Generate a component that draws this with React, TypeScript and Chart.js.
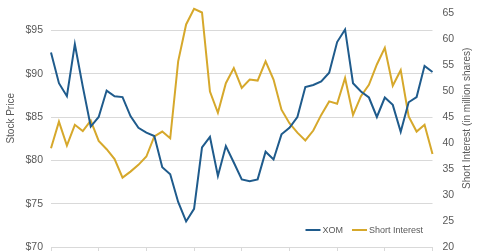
import React, { useEffect, useRef } from 'react';
import { Chart, registerables } from 'chart.js';

Chart.register(...registerables);

// Semi-monthly observation dates (x-axis has no visible labels)
const dates: string[] = [
  '12/31/14',
  '01/15/15', '01/30/15', '02/13/15', '02/27/15', '03/13/15', '03/31/15',
  '04/15/15', '04/30/15', '05/15/15', '05/29/15', '06/15/15', '06/30/15',
  '07/15/15', '07/31/15', '08/14/15', '08/31/15', '09/15/15', '09/30/15',
  '10/15/15', '10/30/15', '11/13/15', '11/30/15', '12/15/15', '12/31/15',
  '01/15/16', '01/29/16', '02/12/16', '02/29/16', '03/15/16', '03/31/16',
  '04/15/16', '04/29/16', '05/13/16', '05/31/16', '06/15/16', '06/30/16',
  '07/15/16', '07/29/16', '08/15/16', '08/31/16', '09/15/16', '09/30/16',
  '10/14/16', '10/31/16', '11/15/16', '11/30/16', '12/15/16', '12/30/16',
];

const xomPrice: number[] = [
  92.45, 88.9, 87.4, 93.4, 88.5, 83.9, 85.0, 88.05, 87.4, 87.3, 85.1, 83.75,
  83.2, 82.8, 79.2, 78.4, 75.2, 72.95, 74.4, 81.5, 82.7, 78.2, 81.65, 79.75,
  77.8, 77.6, 77.8, 81.0, 80.1, 83.0, 83.75, 85.0, 88.45, 88.7, 89.1, 90.1,
  93.65, 95.1, 88.9, 87.95, 87.25, 85.0, 87.25, 86.4, 83.3, 86.7, 87.3, 90.9,
  90.2,
];

const shortInterest: number[] = [
  39.0, 44.1, 39.5, 43.5, 42.3, 44.3, 40.4, 38.8, 36.9, 33.35, 34.5, 35.8,
  37.4, 41.25, 42.2, 40.9, 55.7, 62.8, 65.8, 65.1, 49.9, 45.8, 51.5, 54.4,
  50.6, 52.2, 52.0, 55.7, 52.2, 46.4, 43.8, 42.0, 40.5, 42.4, 45.4, 48.0,
  47.55, 52.5, 45.4, 49.0, 51.2, 55.1, 58.3, 51.0, 54.0, 45.1, 42.2, 43.5,
  37.9,
];

const priceTicks: number[] = [70, 75, 80, 85, 90, 95];
const seriesNames: string[] = ['XOM', 'Short Interest'];
const leftTitle = 'Stock Price';
const rightTitle = 'Short Interest (in million shares)';

const BLUE = '#1F5B8C';
const GOLD = '#D6A82B';
const TEXT = '#595959';
const GRID = '#D9D9D9';
const FONT = '"Liberation Sans", Arial, sans-serif';

export default function App() {
  const ref = useRef<HTMLCanvasElement>(null);

  useEffect(() => {
    document.body.style.margin = '0';
    if (!ref.current) return;

    const overlay = {
      id: 'overlay',
      afterDraw(chart: any) {
        const { ctx, chartArea } = chart;
        ctx.save();
        ctx.fillStyle = TEXT;
        ctx.font = `10px ${FONT}`;
        ctx.textAlign = 'center';
        ctx.textBaseline = 'middle';
        const cy = chartArea.top + (chartArea.bottom - chartArea.top) * 0.45;
        // left title
        ctx.save();
        ctx.translate(11, cy);
        ctx.rotate(-Math.PI / 2);
        ctx.fillText(leftTitle, 0, 0);
        ctx.restore();
        // right title
        ctx.save();
        ctx.translate(chart.width - 13, cy);
        ctx.rotate(-Math.PI / 2);
        ctx.fillText(rightTitle, 0, 0);
        ctx.restore();

        // legend
        ctx.font = `9px ${FONT}`;
        ctx.textAlign = 'left';
        const ly = chartArea.bottom - 17;
        let x = chartArea.right - 127;
        const colors = [BLUE, GOLD];
        seriesNames.forEach((name, i) => {
          ctx.strokeStyle = colors[i];
          ctx.lineWidth = 2;
          ctx.beginPath();
          ctx.moveTo(x, ly);
          ctx.lineTo(x + 15, ly);
          ctx.stroke();
          ctx.fillStyle = TEXT;
          ctx.fillText(name, x + 17, ly + 0.5);
          x += 17 + ctx.measureText(name).width + 9;
        });
        ctx.restore();
      },
    };

    const chart = new Chart(ref.current, {
      type: 'line',
      data: {
        labels: dates,
        datasets: [
          {
            label: seriesNames[0],
            data: xomPrice,
            borderColor: BLUE,
            backgroundColor: BLUE,
            borderWidth: 2,
            pointRadius: 0,
            tension: 0,
            clip: false,
            yAxisID: 'y',
          },
          {
            label: seriesNames[1],
            data: shortInterest,
            borderColor: GOLD,
            backgroundColor: GOLD,
            borderWidth: 2,
            pointRadius: 0,
            tension: 0,
            clip: false,
            yAxisID: 'y1',
          },
        ],
      },
      options: {
        animation: false,
        responsive: true,
        maintainAspectRatio: false,
        layout: { padding: { top: 13, left: 0, right: 0, bottom: 0 } },
        plugins: {
          legend: { display: false },
          tooltip: { enabled: false },
        },
        scales: {
          x: {
            type: 'category',
            offset: false,
            grid: {
              drawOnChartArea: false,
              drawTicks: true,
              tickLength: 4,
              color: GRID,
            },
            border: { display: true, color: GRID },
            ticks: { display: false, autoSkip: false },
            afterBuildTicks: (scale: any) => {
              scale.ticks = scale.ticks.filter((t: any) => t.value % 6 === 0);
            },
          },
          y: {
            position: 'left',
            min: 70,
            max: 97,
            grid: { color: GRID, drawTicks: false },
            border: { display: false },
            ticks: {
              padding: 8,
              color: TEXT,
              font: { family: FONT, size: 10.5 },
              callback: (v: any) => '$' + v,
            },
            afterBuildTicks: (scale: any) => {
              scale.ticks = priceTicks.map((v) => ({ value: v }));
            },
            afterFit: (scale: any) => {
              scale.width = 51;
              scale.paddingTop = 0;
              scale.paddingBottom = 0;
            },
          },
          y1: {
            position: 'right',
            min: 20,
            max: 65,
            grid: { display: false, drawTicks: false },
            border: { display: false },
            ticks: {
              stepSize: 5,
              padding: 10,
              color: TEXT,
              font: { family: FONT, size: 10.5 },
            },
            afterFit: (scale: any) => {
              scale.width = 47.5;
              scale.paddingTop = 0;
              scale.paddingBottom = 0;
            },
          },
        },
      },
      plugins: [overlay],
    });

    return () => chart.destroy();
  }, []);

  return (
    <div style={{ position: 'relative', width: 480, height: 251 }}>
      <canvas ref={ref} />
    </div>
  );
}
